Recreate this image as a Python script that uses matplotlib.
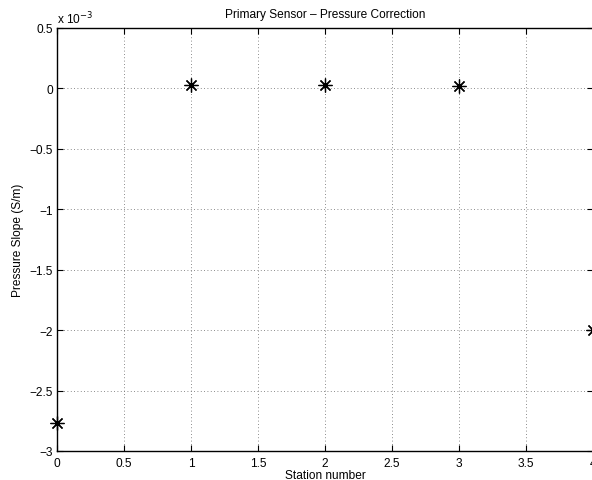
import matplotlib
matplotlib.use("Agg")
import matplotlib.pyplot as plt
from matplotlib.ticker import FuncFormatter, MultipleLocator

plt.rcParams['font.family'] = ['Liberation Sans', 'DejaVu Sans']

stations = [0, 1, 2, 3, 4]
slopes = [-2.765e-3, 0.03e-3, 0.025e-3, 0.018e-3, -2.0e-3]

title = "Primary Sensor \u2013 Pressure Correction"
xlabel = "Station number"
ylabel = "Pressure Slope (S/m)"

fs = 8.6

fig = plt.figure(figsize=(5.92, 4.81), dpi=100)
ax = fig.add_axes([57/592, 1 - 452/481, (593 - 57)/592, (452 - 29)/481])

ax.plot(stations, slopes, linestyle='none', marker=(8, 2, 0), markersize=10,
        markeredgewidth=0.9, color='black', clip_on=False, zorder=5)

ax.set_xlim(0, 4)
ax.set_ylim(-3e-3, 0.5e-3)
ax.xaxis.set_major_locator(MultipleLocator(0.5))
ax.yaxis.set_major_locator(MultipleLocator(0.5e-3))

def xfmt(v, pos):
    s = ('%g' % round(v, 6))
    return s.replace('-', '\u2212')

def yfmt(v, pos):
    s = ('%g' % round(v * 1e3, 6))
    if s == '-0':
        s = '0'
    return s.replace('-', '\u2212')

ax.xaxis.set_major_formatter(FuncFormatter(xfmt))
ax.yaxis.set_major_formatter(FuncFormatter(yfmt))

ax.grid(True, linestyle=(0, (1, 3)), linewidth=0.6, color='#666666')
ax.tick_params(direction='in', length=4, width=0.8, labelsize=fs, top=True, right=True)
ax.tick_params(axis='x', pad=4)
ax.tick_params(axis='y', pad=3)
for sp in ax.spines.values():
    sp.set_linewidth(1.0)

ax.set_title(title, fontsize=fs, pad=8)
ax.set_xlabel(xlabel, fontsize=fs, labelpad=0)
ax.set_ylabel(ylabel, fontsize=fs, labelpad=4)

ax.text(0.0, 1.005, "x 10$^{\u22123}$", transform=ax.transAxes, fontsize=fs,
        ha='left', va='bottom')

fig.savefig("out.png", dpi=100)
